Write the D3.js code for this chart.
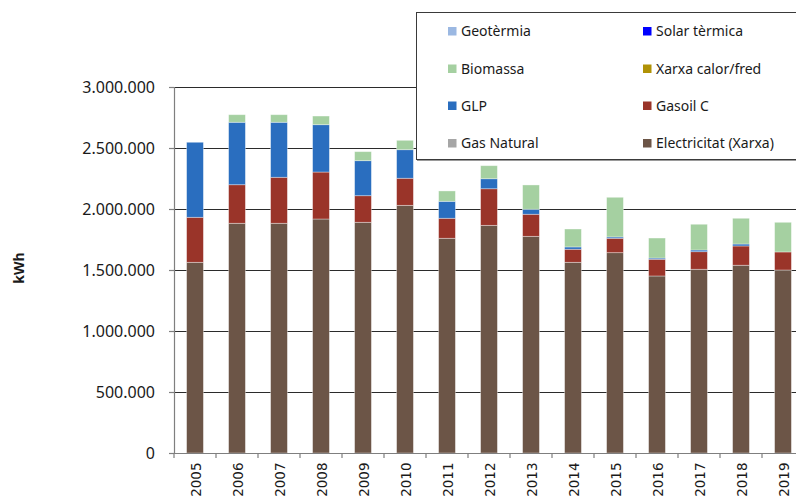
<!DOCTYPE html>
<html>
<head>
<meta charset="utf-8">
<script src="https://cdn.jsdelivr.net/npm/d3@7"></script>
<style>
  html, body { margin: 0; padding: 0; background: #fff; }
  svg { display: block; }
</style>
</head>
<body>
<svg id="chart" width="796" height="499"></svg>
<script>
// Annual energy consumption by source, kWh
const years = ["2005","2006","2007","2008","2009","2010","2011","2012","2013","2014","2015","2016","2017","2018","2019"];

const electricitat = [1563000,1883000,1883000,1918000,1891000,2030000,1760000,1866000,1776000,1563000,1642000,1451000,1506000,1539000,1500000];
const gasNatural   = [0,0,0,0,0,0,0,0,0,0,0,0,0,0,0];
const gasoilC      = [369000,316000,377000,385000,218000,222000,164000,300000,181000,107000,118000,137000,144000,158000,148000];
const glp          = [615000,512000,451000,388000,287000,234000,139000,82000,41000,19000,11000,10000,14000,16000,0];
const xarxa        = [0,0,0,0,0,0,0,0,0,0,0,0,0,0,0];
const biomassa     = [0,62000,62000,71000,74000,77000,85000,107000,199000,147000,325000,164000,211000,211000,243000];
const solar        = [0,0,0,0,0,0,0,0,0,0,0,0,0,0,0];
const geotermia    = [0,0,0,0,0,0,0,0,0,0,0,0,0,0,0];

const yTicks = [0,500000,1000000,1500000,2000000,2500000,3000000];

// stacking order, bottom to top
const series = [
  { key: "Electricitat (Xarxa)", values: electricitat, color: "#6c5547" },
  { key: "Gas Natural",          values: gasNatural,   color: "#a6a6a6" },
  { key: "Gasoil C",             values: gasoilC,      color: "#9a3429" },
  { key: "GLP",                  values: glp,          color: "#2a6ebf" },
  { key: "Xarxa calor/fred",     values: xarxa,        color: "#b09206" },
  { key: "Biomassa",             values: biomassa,     color: "#a5d0a1" },
  { key: "Solar tèrmica",        values: solar,        color: "#0000ff" },
  { key: "Geotèrmia",            values: geotermia,    color: "#9bb8e2" }
];

// legend reading order (two columns)
const legendOrder = ["Geotèrmia","Solar tèrmica","Biomassa","Xarxa calor/fred","GLP","Gasoil C","Gas Natural","Electricitat (Xarxa)"];

const rows = years.map((y, i) => {
  const r = { year: y };
  series.forEach(s => r[s.key] = s.values[i]);
  return r;
});

const stack = d3.stack().keys(series.map(s => s.key));
const layers = stack(rows);
const colorOf = new Map(series.map(s => [s.key, s.color]));

const svg = d3.select("#chart");

const x = d3.scaleBand().domain(years).range([174, 804]).paddingInner(0.6).paddingOuter(0.3);
const y = d3.scaleLinear().domain([0, 3000000]).range([453, 87]);

const loc = d3.formatLocale({ decimal: ",", thousands: ".", grouping: [3], currency: ["", " €"] });
const fmt = loc.format(",d");

// horizontal gridlines
svg.append("g")
  .selectAll("line")
  .data(yTicks.filter(t => t > 0))
  .join("line")
  .attr("x1", 174).attr("x2", 810)
  .attr("y1", d => y(d)).attr("y2", d => y(d))
  .attr("stroke", "#2b2b2b").attr("stroke-width", 1)
  .attr("shape-rendering", "crispEdges");

// stacked bars
svg.append("g")
  .selectAll("g")
  .data(layers)
  .join("g")
  .attr("fill", d => colorOf.get(d.key))
  .selectAll("rect")
  .data(d => d.filter(p => p[1] - p[0] > 0))
  .join("rect")
  .attr("x", d => x(d.data.year))
  .attr("width", x.bandwidth())
  .attr("y", d => y(d[1]))
  .attr("height", d => y(d[0]) - y(d[1]))
  .attr("stroke", "rgba(255,255,255,0.45)")
  .attr("stroke-width", 0.8);

// y axis
const yAxis = d3.axisLeft(y).tickValues(yTicks).tickFormat(fmt).tickSize(5).tickPadding(14);
const gy = svg.append("g").attr("transform", "translate(174,0)").call(yAxis);
gy.select(".domain").attr("stroke", "#7f7f7f").attr("stroke-width", 1.2);
gy.selectAll(".tick line").attr("stroke", "#7f7f7f").attr("stroke-width", 1.2);
gy.selectAll(".tick text")
  .attr("font-family", "'Noto Sans', 'Open Sans', sans-serif")
  .attr("font-size", "16px")
  .attr("fill", "#1a1a1a");

// x axis
const xAxis = d3.axisBottom(x).tickSize(0).tickPadding(0);
const gx = svg.append("g").attr("transform", "translate(0,453)").call(xAxis);
gx.select(".domain").attr("stroke", "#7f7f7f").attr("stroke-width", 1.2);
gx.selectAll(".tick text")
  .attr("font-family", "'DejaVu Sans', Verdana, sans-serif")
  .attr("font-size", "13.5px")
  .attr("fill", "#1a1a1a")
  .attr("text-anchor", "end")
  .attr("dy", "0.35em")
  .attr("transform", "translate(1,9.5) rotate(-90)");

// category boundary tick marks
const bounds = years.map(yr => x(yr) - x.step() * x.paddingInner() / 2);
gx.append("g")
  .selectAll("line")
  .data(bounds)
  .join("line")
  .attr("x1", d => d).attr("x2", d => d)
  .attr("y1", 0).attr("y2", 5)
  .attr("stroke", "#7f7f7f").attr("stroke-width", 1.2);

// y axis title
svg.append("text")
  .attr("transform", "translate(24,268) rotate(-90)")
  .attr("text-anchor", "middle")
  .attr("font-family", "'Noto Sans', 'Open Sans', sans-serif")
  .attr("font-weight", "bold")
  .attr("font-size", "14px")
  .attr("fill", "#1a1a1a")
  .text("kWh");

// legend
const lg = svg.append("g");
lg.append("rect")
  .attr("x", 416.5).attr("y", 12.5)
  .attr("width", 400).attr("height", 147)
  .attr("fill", "#fff")
  .attr("stroke", "#3a3a3a").attr("stroke-width", 1);
lg.append("line")
  .attr("x1", 417).attr("x2", 800).attr("y1", 160.5).attr("y2", 160.5)
  .attr("stroke", "#9a9a9a").attr("stroke-width", 1);

const colX = [448, 643];
const rowY = [31, 68.5, 105.5, 143];
const items = lg.selectAll("g.item")
  .data(legendOrder)
  .join("g")
  .attr("class", "item")
  .attr("transform", (d, i) => `translate(${colX[i % 2]},${rowY[Math.floor(i / 2)]})`);
items.append("rect")
  .attr("x", 0).attr("y", -4).attr("width", 8.5).attr("height", 8.5)
  .attr("fill", d => colorOf.get(d));
items.append("text")
  .attr("x", 13).attr("y", 0).attr("dy", "0.36em")
  .attr("font-family", "'Noto Sans', 'Open Sans', sans-serif")
  .attr("font-size", "14px")
  .attr("fill", "#1a1a1a")
  .text(d => d);
</script>
</body>
</html>
